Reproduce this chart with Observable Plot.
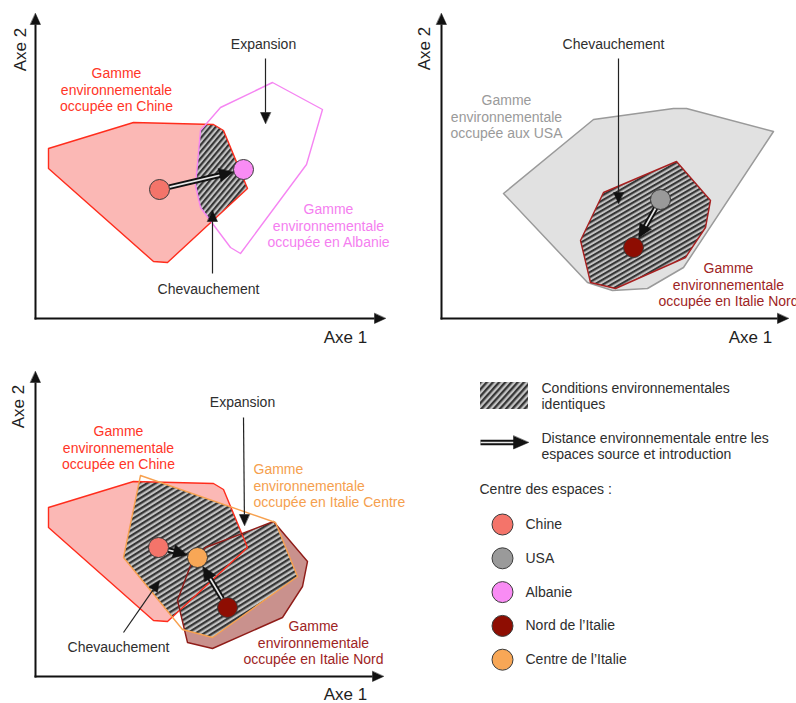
<!DOCTYPE html>
<html><head><meta charset="utf-8">
<script src="https://cdn.jsdelivr.net/npm/d3@7"></script>
<script src="https://cdn.jsdelivr.net/npm/@observablehq/plot@0.6"></script>
<style>body{margin:0;background:#fff;} svg{display:block}</style>
</head><body><div id="chart"></div>
<script>
// ---------- data (diagram units = pixels of the 796x703 canvas) ----------
// Panel 1 : Chine -> Albanie
const chine1   = [[48,148],[133,122],[213,124],[223,130],[247,188],[167,262],[153,261],[48,168]];
const albanie1 = [[220,107],[272,82],[322,109],[306,164],[240,253],[230,247],[200,207],[195,185],[200,130]];
// Panel 2 : USA -> Italie Nord
const usa2     = [[503,193],[593,119],[673,108],[686,108],[773,131],[683,267],[647,288],[612,290],[587,282]];
const nord2    = [[603,192],[676,161],[710,200],[705,227],[685,257],[615,288],[590,282],[580,240]];
// Panel 3 : Chine + Italie Nord -> Italie Centre
const chine3   = [[48,507],[133,481],[213,483],[223,489],[247,547],[167,621],[153,620],[48,527]];
const nord3    = [[190,565],[205,547],[273,521],[307,561],[302,586],[282,617],[212,648],[187,642],[177,600]];
const centre3  = [[140,475],[275,522],[297,576],[212,637],[182,629],[123,557]];

// centres of the environmental spaces
const centres = [
  {id:"c1", key:"Chine",   x:159, y:189},
  {id:"a1", key:"Albanie", x:243, y:169},
  {id:"u2", key:"USA",     x:660, y:199},
  {id:"n2", key:"Nord",    x:633, y:247},
  {id:"c3", key:"Chine",   x:158, y:547},
  {id:"m3", key:"Centre",  x:197, y:557},
  {id:"n3", key:"Nord",    x:227, y:607}
];
// environmental distance arrows (source -> introduction)
const shifts = [["c1","a1"],["u2","n2"],["c3","m3"],["n3","m3"]];
// annotation pointers
const pointers = [
  [[265,58],[265,123]], [[212,273],[212,210]],
  [[618,58],[618,203]],
  [[243,417],[244,525]], [[123,632],[159,580]]
];
// axes of the three panels : origin, x end, y end
const axesDefs = [
  {x0:35,  y0:318, x1:385, y1:13},
  {x0:441, y0:318, x1:788, y1:13},
  {x0:35,  y0:676, x1:383, y1:371}
];
const axe1Labels = [{x:345,y:337},{x:750,y:337},{x:345,y:694}];
const axe2Labels = [{x:20,y:49},{x:424,y:48},{x:18,y:406}];

const darkLabels = [
  {x:263,y:44, t:"Expansion"},
  {x:208,y:289,t:"Chevauchement"},
  {x:613,y:44, t:"Chevauchement"},
  {x:242,y:402,t:"Expansion"},
  {x:118,y:647,t:"Chevauchement"}
];
const gammeLabels = [
  {x:116,y:89, t:"Gamme\nenvironnementale\noccupée en Chine", key:"ChineTxt", anchor:"middle"},
  {x:328,y:225,t:"Gamme\nenvironnementale\noccupée en Albanie", key:"AlbanieTxt", anchor:"middle"},
  {x:506,y:116,t:"Gamme\nenvironnementale\noccupée aux USA", key:"USATxt", anchor:"middle"},
  {x:728,y:284,t:"Gamme\nenvironnementale\noccupée en Italie Nord", key:"NordTxt", anchor:"middle"},
  {x:118,y:447,t:"Gamme\nenvironnementale\noccupée en Chine", key:"ChineTxt", anchor:"middle"},
  {x:253,y:485,t:"Gamme\nenvironnementale\noccupée en Italie Centre", key:"CentreTxt", anchor:"start"},
  {x:313,y:642,t:"Gamme\nenvironnementale\noccupée en Italie Nord", key:"NordTxt", anchor:"middle"}
];

// legend
const legendKeys   = ["Chine","USA","Albanie","Nord","Centre"];
const legendNames  = ["Chine","USA","Albanie","Nord de l’Italie","Centre de l’Italie"];
const legendTexts  = [
  {x:541,y:395,t:"Conditions environnementales\nidentiques"},
  {x:541,y:445,t:"Distance environnementale entre les\nespaces source et introduction"},
  {x:479,y:488,t:"Centre des espaces :"}
];
const legendSwatch = [{x1:480,x2:528,y1:382,y2:409}];
const legendArrow  = [{x1:480,y1:442,x2:528,y2:442}];

// ---------- styles ----------
const centreColors = {Chine:"#f4746a", USA:"#9a9a9a", Albanie:"#f98cf4", Nord:"#8e0d02", Centre:"#f8a756"};
const textColors = {ChineTxt:"#ff3527", AlbanieTxt:"#f57ef0", USATxt:"#9a9a9a", NordTxt:"#9e2424", CentreTxt:"#f5a04e"};
const FONT = "Liberation Sans, Arial, Helvetica, sans-serif";

// ---------- geometry helpers ----------
function signedArea(p){let s=0;for(let i=0;i<p.length;i++){const a=p[i],b=p[(i+1)%p.length];s+=a[0]*b[1]-b[0]*a[1];}return s/2;}
function clipPoly(subject, clipper){
  const sgn = Math.sign(signedArea(clipper));
  let out = subject;
  for (let i=0;i<clipper.length && out.length;i++){
    const A=clipper[i], B=clipper[(i+1)%clipper.length];
    const side = p => (B[0]-A[0])*(p[1]-A[1]) - (B[1]-A[1])*(p[0]-A[0]);
    const inside = p => sgn*side(p) >= 0;
    const inter = (P,Q) => {const d1=side(P), d2=side(Q), t=d1/(d1-d2); return [P[0]+t*(Q[0]-P[0]), P[1]+t*(Q[1]-P[1])];};
    const input = out; out = [];
    for (let j=0;j<input.length;j++){
      const P=input[j], Q=input[(j+1)%input.length];
      const pin=inside(P), qin=inside(Q);
      if (pin){ out.push(P); if(!qin) out.push(inter(P,Q)); }
      else if (qin) out.push(inter(P,Q));
    }
  }
  return out;
}
function head(from, to, len, half){
  const dx=to[0]-from[0], dy=to[1]-from[1], L=Math.hypot(dx,dy), ux=dx/L, uy=dy/L;
  const bx=to[0]-ux*len, by=to[1]-uy*len;
  return {tri:[[to[0],to[1]],[bx-uy*half,by+ux*half],[bx+uy*half,by-ux*half]], base:[bx,by]};
}
const poly = (pts, opts) => Plot.line(pts, {x:d=>d[0], y:d=>d[1], curve:"linear-closed", ...opts});

const R = 10;
const byId = Object.fromEntries(centres.map(d=>[d.id,d]));
// double arrows between centres
const dbl = shifts.map(([a,b]) => {
  const A=byId[a], B=byId[b];
  const dx=B.x-A.x, dy=B.y-A.y, L=Math.hypot(dx,dy), ux=dx/L, uy=dy/L;
  const start=[A.x+ux*R, A.y+uy*R], tip=[B.x-ux*(R+0.5), B.y-uy*(R+0.5)];
  const h=head(start, tip, 14, 6.5);
  return {x1:start[0], y1:start[1], x2:h.base[0]+ux*2, y2:h.base[1]+uy*2, tri:h.tri};
});
legendArrow.forEach(d => {
  const h=head([d.x1,d.y1],[d.x2,d.y2],15,6.5);
  dbl.push({x1:d.x1, y1:d.y1, x2:h.base[0]+2, y2:h.base[1], tri:h.tri});
});
const ptr = pointers.map(([s,t]) => {const h=head(s,t,11,5); return {x1:s[0],y1:s[1],x2:h.base[0],y2:h.base[1],tri:h.tri};});
const axisLines = [], axisHeads = [];
axesDefs.forEach(a => {
  const hx=head([a.x0,a.y0],[a.x1,a.y0],11,5), hy=head([a.x0,a.y0],[a.x0,a.y1],11,5);
  axisLines.push({x1:a.x0-1,y1:a.y0,x2:hx.base[0],y2:a.y0},{x1:a.x0,y1:a.y0+1,x2:a.x0,y2:hy.base[1]});
  axisHeads.push(hx.tri, hy.tri);
});

const legendDots = legendKeys.map((k,i)=>({key:k, name:legendNames[i], x:502, y:524+i*33.8}));

// overlap (identical conditions) areas
const hatch1 = clipPoly(albanie1, chine1);
const hatch2 = clipPoly(nord2, usa2);
const hatch3a = clipPoly(centre3, chine3);
const hatch3b = clipPoly(centre3, nord3);

const marks = [
  // panel 1
  poly(chine1, {fill:"#fbb8b5", stroke:"none"}),
  poly(hatch1, {fill:"url(#hatch1)", stroke:"none"}),
  poly(chine1, {fill:"none", stroke:"#ff2d1d", strokeWidth:1.4}),
  poly(albanie1, {fill:"none", stroke:"#f585f2", strokeWidth:1.4}),
  // panel 2
  poly(usa2, {fill:"#e1e1e1", stroke:"#9a9a9a", strokeWidth:1.5}),
  poly(hatch2, {fill:"url(#hatch2)", stroke:"none"}),
  poly(nord2, {fill:"none", stroke:"#a82020", strokeWidth:1.4}),
  // panel 3
  poly(chine3, {fill:"#fbb8b5", stroke:"none"}),
  poly(nord3, {fill:"#c9918d", stroke:"none"}),
  poly(hatch3a, {fill:"url(#hatch3)", stroke:"none"}),
  poly(hatch3b, {fill:"url(#hatch3)", stroke:"none"}),
  poly(chine3, {fill:"none", stroke:"#ff2d1d", strokeWidth:1.4}),
  poly(nord3, {fill:"none", stroke:"#8f1c18", strokeWidth:1.4}),
  poly(centre3, {fill:"none", stroke:"#f7a14f", strokeWidth:1.4}),
  // legend swatch
  Plot.rect(legendSwatch, {x1:"x1", x2:"x2", y1:"y1", y2:"y2", fill:"url(#hatchL)"}),
  // axes
  Plot.link(axisLines, {x1:"x1", y1:"y1", x2:"x2", y2:"y2", stroke:"#111", strokeWidth:2}),
  ...axisHeads.map(t => poly(t, {fill:"#111", stroke:"#111", strokeWidth:0.5})),
  // pointers
  Plot.link(ptr, {x1:"x1", y1:"y1", x2:"x2", y2:"y2", stroke:"#222", strokeWidth:1.2}),
  ...ptr.map(d => poly(d.tri, {fill:"#111", stroke:"#111", strokeWidth:0.5})),
  // distance arrows (double line)
  Plot.link(dbl, {x1:"x1", y1:"y1", x2:"x2", y2:"y2", stroke:"#111", strokeWidth:5.5}),
  Plot.link(dbl, {x1:"x1", y1:"y1", x2:"x2", y2:"y2", stroke:"#e8e8e8", strokeWidth:1.7}),
  ...dbl.map(d => poly(d.tri, {fill:"#111", stroke:"#111", strokeWidth:0.5})),
  // centres
  Plot.dot(centres, {x:"x", y:"y", r:R, fill:d=>centreColors[d.key], stroke:"#3a3a3a", strokeWidth:1}),
  Plot.dot(legendDots, {x:"x", y:"y", r:R+0.5, fill:d=>centreColors[d.key], stroke:"#3a3a3a", strokeWidth:1}),
  // texts
  Plot.text(darkLabels, {x:"x", y:"y", text:"t", fill:"#2e2e2e", fontSize:14, fontFamily:FONT}),
  ...gammeLabels.map(d => Plot.text([d], {x:"x", y:"y", text:"t", fill:textColors[d.key], fontSize:14, lineHeight:1.18, textAnchor:d.anchor, fontFamily:FONT})),
  Plot.text(axe1Labels, {x:"x", y:"y", text:()=> "Axe 1", fill:"#1e1e1e", fontSize:17, fontFamily:FONT}),
  Plot.text(axe2Labels, {x:"x", y:"y", text:()=> "Axe 2", fill:"#1e1e1e", fontSize:17, rotate:-90, fontFamily:FONT}),
  Plot.text(legendTexts, {x:"x", y:"y", text:"t", fill:"#2e2e2e", fontSize:14, lineHeight:1.17, textAnchor:"start", fontFamily:FONT}),
  Plot.text(legendDots, {x:()=>525, y:"y", text:"name", fill:"#2e2e2e", fontSize:14, textAnchor:"start", fontFamily:FONT})
];

const svg = Plot.plot({
  width: 796, height: 703,
  margin: 0,
  x: {domain:[0,796], range:[0,796], axis:null},
  y: {domain:[0,703], range:[0,703], axis:null},
  color: {type:"identity"},
  style: {fontFamily: FONT, background:"#fff"},
  marks
});

// hatch patterns
const NS = "http://www.w3.org/2000/svg";
const defs = document.createElementNS(NS, "defs");
function addPattern(id, angle, period){
  const p = document.createElementNS(NS, "pattern");
  p.setAttribute("id", id);
  p.setAttribute("patternUnits", "userSpaceOnUse");
  p.setAttribute("width", period); p.setAttribute("height", period);
  p.setAttribute("patternTransform", `rotate(${angle})`);
  const bg = document.createElementNS(NS, "rect");
  bg.setAttribute("width", period); bg.setAttribute("height", period); bg.setAttribute("fill", "#c3c3c3");
  const st = document.createElementNS(NS, "rect");
  st.setAttribute("width", period*0.5); st.setAttribute("height", period); st.setAttribute("fill", "#353535");
  p.appendChild(bg); p.appendChild(st); defs.appendChild(p);
}
addPattern("hatch1", 40, 4.3);
addPattern("hatch2", 60, 4.3);
addPattern("hatch3", 58, 4.5);
addPattern("hatchL", 42, 4.6);
svg.insertBefore(defs, svg.firstChild);

document.getElementById("chart").appendChild(svg);
</script>
</body></html>
